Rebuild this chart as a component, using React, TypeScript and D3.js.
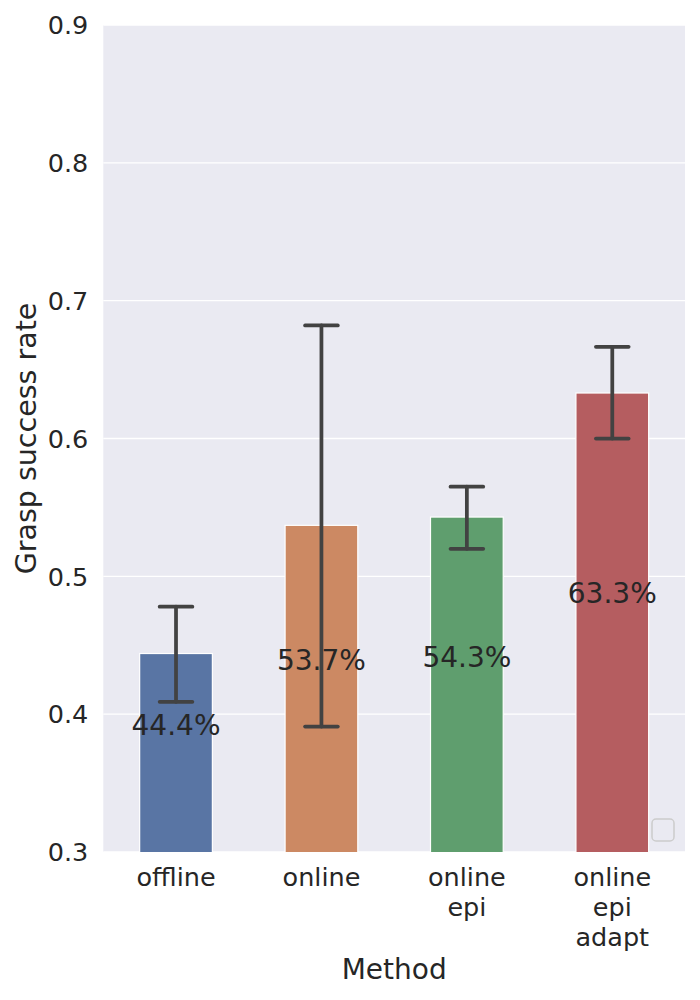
import React from "react";
import * as d3 from "d3";

const categories: string[][] = [["offline"], ["online"], ["online", "epi"], ["online", "epi", "adapt"]];
const values: number[] = [0.444, 0.537, 0.543, 0.633];
const errLow: number[] = [0.409, 0.391, 0.52, 0.6];
const errHigh: number[] = [0.478, 0.682, 0.565, 0.6665];
const labelTexts: string[] = ["44.4%", "53.7%", "54.3%", "63.3%"];
const labelY: number[] = [0.385, 0.4317, 0.4345, 0.4805];
const yTicks: number[] = [0.3, 0.4, 0.5, 0.6, 0.7, 0.8, 0.9];
const colors: string[] = ["#5975a4", "#cc8963", "#5f9e6e", "#b55d60"];

const W = 700;
const H = 1000;
const left = 103.3;
const right = 685;
const top = 25;
const bottom = 852;
const font = "'DejaVu Sans', sans-serif";
const textColor = "#262626";

export default function App() {
  const keys = categories.map((c) => c.join(" "));
  const x = d3.scaleBand<string>().domain(keys).range([left, right]).paddingInner(0.5).paddingOuter(0.25);
  const y = d3.scaleLinear().domain([0.3, 0.9]).range([bottom, top]);
  const bw = x.bandwidth();
  const cap = bw * 0.45;
  return (
    <div style={{ position: "absolute", left: 0, top: 0 }}>
      <svg width={W} height={H} style={{ display: "block", background: "#fff" }}>
        <defs>
          <clipPath id="plot">
            <rect x={left} y={top} width={right - left} height={bottom - top} />
          </clipPath>
        </defs>
        <rect x={left} y={top} width={right - left} height={bottom - top} fill="#eaeaf2" />
        {yTicks.map((t) => (
          <line key={t} x1={left} x2={right} y1={y(t)} y2={y(t)} stroke="#fff" strokeWidth={1.4} />
        ))}
        <g clipPath="url(#plot)">
          {keys.map((k, i) => (
            <rect
              key={k}
              x={x(k)!}
              y={y(values[i])}
              width={bw}
              height={y(0.3) - y(values[i]) + 2}
              fill={colors[i]}
              stroke="#fff"
              strokeWidth={1.2}
            />
          ))}
        </g>
        {keys.map((k, i) => {
          const cx = x(k)! + bw / 2;
          return (
            <g key={k} stroke="#424242" strokeWidth={3.75} strokeLinecap="round">
              <line x1={cx} x2={cx} y1={y(errLow[i])} y2={y(errHigh[i])} />
              <line x1={cx - cap / 2} x2={cx + cap / 2} y1={y(errLow[i])} y2={y(errLow[i])} />
              <line x1={cx - cap / 2} x2={cx + cap / 2} y1={y(errHigh[i])} y2={y(errHigh[i])} />
            </g>
          );
        })}
        {keys.map((k, i) => (
          <text
            key={k}
            x={x(k)! + bw / 2}
            y={y(labelY[i])}
            textAnchor="middle"
            fontFamily={font}
            fontSize={28}
            fill={textColor}
          >
            {labelTexts[i]}
          </text>
        ))}
        {yTicks.map((t) => (
          <text
            key={t}
            x={left - 15}
            y={y(t)}
            dy="0.36em"
            textAnchor="end"
            fontFamily={font}
            fontSize={25.5}
            fill={textColor}
          >
            {d3.format(".1f")(t)}
          </text>
        ))}
        {keys.map((k, i) => (
          <text
            key={k}
            x={x(k)! + bw / 2}
            y={886}
            textAnchor="middle"
            fontFamily={font}
            fontSize={25.5}
            fill={textColor}
          >
            {categories[i].map((line, j) => (
              <tspan key={j} x={x(k)! + bw / 2} dy={j === 0 ? 0 : 29.8}>
                {line}
              </tspan>
            ))}
          </text>
        ))}
        <text
          x={(left + right) / 2}
          y={979.3}
          textAnchor="middle"
          fontFamily={font}
          fontSize={28}
          fill={textColor}
        >
          Method
        </text>
        <text
          transform={`translate(36,${(top + bottom) / 2}) rotate(-90)`}
          textAnchor="middle"
          fontFamily={font}
          fontSize={28.5}
          fill={textColor}
        >
          Grasp success rate
        </text>
        <rect x={652} y={819} width={22} height={22} rx={4} fill="#eaeaf2" stroke="#cccccc" strokeWidth={1.5} />
      </svg>
    </div>
  );
}
